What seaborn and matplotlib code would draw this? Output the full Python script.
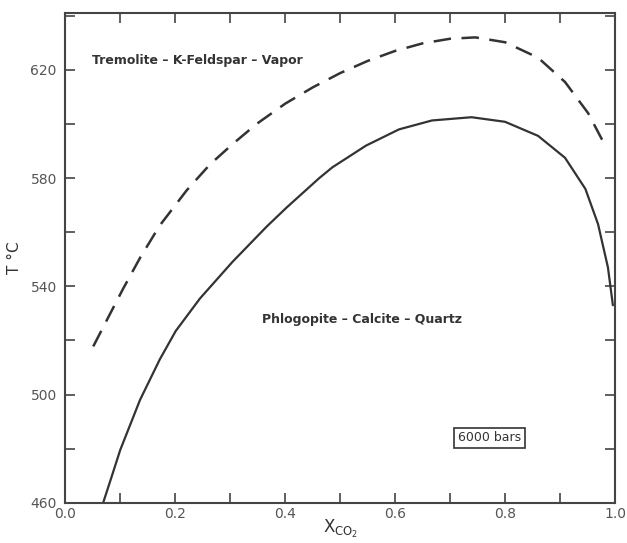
import numpy as np
import pandas as pd
import seaborn as sns
import matplotlib.pyplot as plt
from matplotlib.ticker import MultipleLocator

# values (X_CO2 vs T in deg C, 6000 bars)
solid_x = [0.069, 0.085, 0.100, 0.136, 0.172, 0.201, 0.245, 0.304, 0.366, 0.402,
           0.462, 0.486, 0.547, 0.607, 0.667, 0.739, 0.800, 0.860, 0.909, 0.946,
           0.969, 0.987, 0.996]
solid_t = [460.0, 470.0, 479.5, 498.0, 513.0, 523.5, 535.5, 549.0, 562.0, 569.0,
           580.0, 584.0, 592.0, 598.0, 601.3, 602.5, 600.8, 595.6, 587.5, 576.0,
           563.0, 547.0, 533.0]

dashed_x = [0.051, 0.082, 0.105, 0.136, 0.172, 0.221, 0.263, 0.304, 0.348, 0.400,
            0.450, 0.500, 0.550, 0.600, 0.650, 0.700, 0.746, 0.800, 0.860, 0.909,
            0.951, 0.982]
dashed_t = [517.8, 530.0, 539.0, 550.5, 562.5, 575.5, 585.0, 592.5, 600.0, 607.5,
            613.5, 618.8, 623.3, 627.0, 629.8, 631.5, 632.0, 630.2, 624.5, 615.5,
            604.0, 592.0]

x_ticks = [0.0, 0.2, 0.4, 0.6, 0.8, 1.0]
x_tick_labels = ["0.0", "0.2", "0.4", "0.6", "0.8", "1.0"]
y_ticks = [460, 500, 540, 580, 620]

upper_label = "Tremolite \u2013 K-Feldspar \u2013 Vapor"
lower_label = "Phlogopite \u2013 Calcite \u2013 Quartz"
pressure_label = "6000 bars"

solid_df = pd.DataFrame({"X": solid_x, "T": solid_t})
dashed_df = pd.DataFrame({"X": dashed_x, "T": dashed_t})

sns.set_style("ticks")
plt.rcParams["font.family"] = ["DejaVu Sans"]

ink = "#333333"
fig = plt.figure(figsize=(6.27, 5.43), dpi=100)
ax = fig.add_axes([0.104, 0.074, 0.877, 0.902])

sns.lineplot(data=solid_df, x="X", y="T", sort=False, color=ink, linewidth=1.6, ax=ax)
sns.lineplot(data=dashed_df, x="X", y="T", sort=False, color=ink, linewidth=1.8, ax=ax)
ax.lines[-1].set_dashes([7, 4.2])

ax.set_xlim(0, 1.0)
ax.set_ylim(460, 641)
ax.set_xticks(x_ticks)
ax.set_xticklabels(x_tick_labels)
ax.set_yticks(y_ticks)
ax.xaxis.set_minor_locator(MultipleLocator(0.1))
ax.yaxis.set_minor_locator(MultipleLocator(20))
ax.tick_params(which="both", direction="in", top=True, right=True,
               length=7, width=1.2, color="#444444", labelsize=10,
               labelcolor="#555555")
ax.tick_params(axis="x", pad=3)
ax.tick_params(axis="y", pad=6)

for side in ax.spines.values():
    side.set_linewidth(1.5)
    side.set_color("#444444")

ax.set_xlabel(r"X$_{\mathregular{CO_2}}$", fontsize=12, color=ink, labelpad=-2)
ax.set_ylabel("T \u00b0C", fontsize=11, color=ink, labelpad=6)

ax.text(0.049, 623.3, upper_label, fontsize=9, fontweight="bold", color=ink,
        va="center", ha="left")
ax.text(0.357, 527.8, lower_label, fontsize=9, fontweight="bold", color=ink,
        va="center", ha="left")
ax.text(0.772, 484, pressure_label, fontsize=9, color=ink, ha="center", va="center",
        bbox=dict(boxstyle="square,pad=0.3", fc="white", ec=ink, lw=1.2))

fig.savefig("out.png", dpi=100)
